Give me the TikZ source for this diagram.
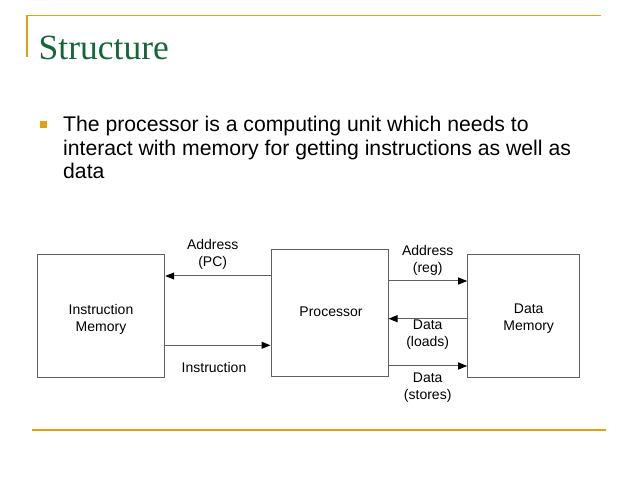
\documentclass[tikz,border=0pt]{standalone}
\usepackage{fontspec}
\setmainfont{Liberation Sans}
\newfontfamily\titlefont{Liberation Serif}
\usetikzlibrary{arrows.meta}
\definecolor{gold}{RGB}{224,160,20}
\definecolor{titlegreen}{RGB}{22,102,58}
\definecolor{linegray}{RGB}{95,95,95}
\tikzset{
  box/.style={draw=linegray, line width=1pt, inner sep=0pt, font=\fontsize{14}{17}\selectfont, align=center},
  lbl/.style={inner sep=0pt, font=\fontsize{14}{17}\selectfont, align=center},
  conn/.style={draw=linegray, line width=1pt, -{Triangle[length=9pt,width=7pt,fill=black,color=black]}},
  rule/.style={draw=gold, line width=1.6pt},
  body/.style={anchor=base west, inner sep=0pt, font=\fontsize{21.2}{23}\selectfont}
}
\begin{document}
\begin{tikzpicture}[x=1pt,y=-1pt]
\useasboundingbox (0,0) rectangle (638,478);
% header rules
\coordinate (tl) at (26.7,15.7);
\coordinate (tr) at (600.7,15.7);
\coordinate (vl) at (26.7,57);
\draw[rule] (vl) -- (tl) -- (tr);
\coordinate (bl) at (32,430);
\coordinate (br) at (606,430);
\draw[rule] (bl) -- (br);
% title
\node[anchor=base west, inner sep=0pt, text=titlegreen, font=\titlefont\fontsize{35.5}{40}\selectfont] (title) at (38.5,60) {Structure};
% bullet
\fill[gold] (40,121) rectangle (46.7,127.7);
\node[body] (l1) at (63,132) {The processor is a computing unit which needs to};
\node[body] (l2) at (63,155.5) {interact with memory for getting instructions as well as};
\node[body] (l3) at (63,178.5) {data};
% boxes
\node[box, minimum width=127.4pt, minimum height=122.7pt] (im) at (101,315.7) {};
\node[lbl] (imt) at (101,319.5) {Instruction\\Memory};
\node[box, minimum width=117pt, minimum height=127.4pt] (pr) at (329.5,313) {};
\node[lbl] (prt) at (331,312) {Processor};
\node[box, minimum width=111.6pt, minimum height=122.7pt] (dm) at (523.5,315.7) {};
\node[lbl] (dmt) at (528.7,318.5) {Data\\Memory};
% connector levels
\coordinate (y1) at (0,276);
\coordinate (y2) at (0,345.3);
\coordinate (y3) at (0,281);
\coordinate (y4) at (0,318.7);
\coordinate (y5) at (0,366);
\draw[conn] (pr.west |- y1) -- (im.east |- y1);
\draw[conn] (im.east |- y2) -- (pr.west |- y2);
\draw[conn] (pr.east |- y3) -- (dm.west |- y3);
\draw[conn] (dm.west |- y4) -- (pr.east |- y4);
\draw[conn] (pr.east |- y5) -- (dm.west |- y5);
% labels
\node[lbl] (la) at (212.7,254.5) {Address\\(PC)};
\node[lbl] (lb) at (214,367.7) {Instruction};
\node[lbl] (lc) at (427.7,260.5) {Address\\(reg)};
\node[lbl] (ld) at (427.7,334.7) {Data\\(loads)};
\node[lbl] (le) at (427.7,387.7) {Data\\(stores)};
\end{tikzpicture}
\end{document}
